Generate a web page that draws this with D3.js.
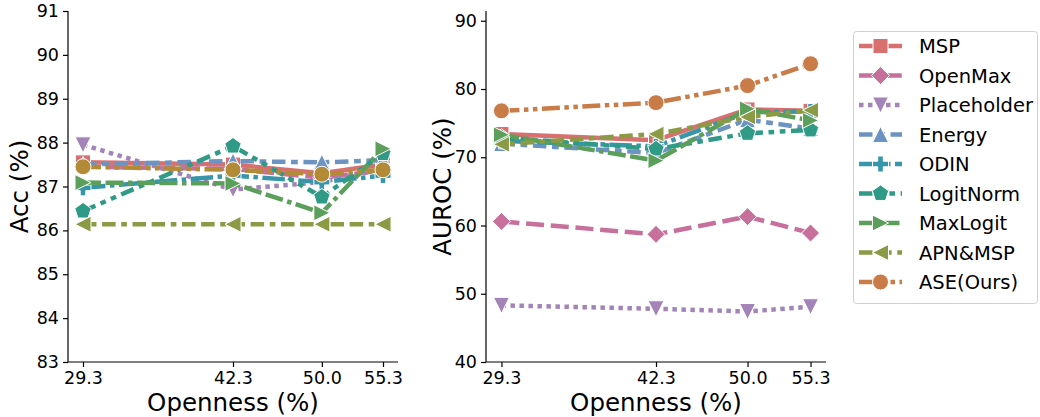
<!DOCTYPE html>
<html><head><meta charset="utf-8">
<script src="https://cdn.jsdelivr.net/npm/d3@7"></script>
<style>body{margin:0;background:#fff}svg text{font-family:"DejaVu Sans",sans-serif;fill:#000}</style>
</head><body>
<svg id="c" width="1040" height="417"></svg>
<script>
// ---------- data ----------
const openness = [29.3, 42.3, 50.0, 55.3];
const opennessLabels = ["29.3", "42.3", "50.0", "55.3"];
const methods = ["MSP", "OpenMax", "Placeholder", "Energy", "ODIN", "LogitNorm", "MaxLogit", "APN&MSP", "ASE(Ours)"];

const accMSP = [87.55, 87.50, 87.30, 87.50];
const accOpenMax = [87.45, 87.40, 87.20, 87.37];
const accPlaceholder = [87.95, 86.93, 87.10, 87.40];
const accEnergy = [87.50, 87.58, 87.55, 87.60];
const accODIN = [86.97, 87.25, 87.10, 87.25];
const accLogitNorm = [86.44, 87.92, 86.76, 87.75];
const accMaxLogit = [87.09, 87.07, 86.40, 87.86];
const accAPN = [86.14, 86.14, 86.14, 86.14];
const accASE = [87.45, 87.38, 87.28, 87.38];

const aurocMSP = [73.4, 72.5, 77.0, 76.8];
const aurocOpenMax = [60.6, 58.7, 61.3, 58.9];
const aurocPlaceholder = [48.3, 47.8, 47.4, 48.1];
const aurocEnergy = [72.0, 70.6, 75.5, 74.2];
const aurocODIN = [72.4, 71.6, 76.6, 76.7];
const aurocLogitNorm = [72.9, 71.2, 73.5, 74.0];
const aurocMaxLogit = [73.3, 69.5, 77.1, 75.4];
const aurocAPN = [71.9, 73.4, 75.9, 76.9];
const aurocASE = [76.8, 78.0, 80.5, 83.7];

const accTicks = [83, 84, 85, 86, 87, 88, 89, 90, 91];
const aurocTicks = [40, 50, 60, 70, 80, 90];

const accSeries = [accMSP, accOpenMax, accPlaceholder, accEnergy, accODIN, accLogitNorm, accMaxLogit, accAPN, accASE];
const aurocSeries = [aurocMSP, aurocOpenMax, aurocPlaceholder, aurocEnergy, aurocODIN, aurocLogitNorm, aurocMaxLogit, aurocAPN, aurocASE];

// ---------- styles ----------
const colors = ["#d8706f", "#c6709b", "#a484b8", "#6c93c1", "#3796aa", "#2f9a86", "#5b9f5a", "#8a9a45", "#c97b48"];
const leftColors = ["#d8706f", "#c6709b", "#a484b8", "#6c93c1", "#3796aa", "#2f9a86", "#5b9f5a", "#8a9a45", "#b38b36"];
const dashes = [null, [4, 1.5], [1, 1], [3, 1.25, 1.5, 1.25], [5, 1, 1, 1], [3, 1.25, 1.25, 1.25, 1.25, 1.25], [4, 1, 4, 1, 1, 1], [3, 1.25, 3, 1.25, 1.25, 1.25], [4, 1, 1, 1, 1, 1]];
const markers = ["s", "D", "v", "^", "P", "p", "<>", "<", "o"];
const LW = 4.5;

function markerPath(m) {
  const r = 8;
  switch (m) {
    case "s": return `M${-7.5},${-7.5}H7.5V7.5H-7.5Z`;
    case "D": return `M0,-9L9,0L0,9L-9,0Z`;
    case "v": return `M-8,-8L8,-8L0,8Z`;
    case "^": return `M-8,8L8,8L0,-8Z`;
    case "P": { const a = 8, b = 2.8; return `M${-b},${-a}H${b}V${-b}H${a}V${b}H${b}V${a}H${-b}V${b}H${-a}V${-b}H${-b}Z`; }
    case "p": { const pts = d3.range(5).map(i => { const t = -Math.PI / 2 + i * 2 * Math.PI / 5; return [8.6 * Math.cos(t), 8.6 * Math.sin(t)]; }); return "M" + pts.map(p => p.join(",")).join("L") + "Z"; }
    case "<>": return `M-8,-8L8,0L-8,8Z`;
    case "<": return `M8,-8L-8,0L8,8Z`;
    case "o": return d3.arc()({innerRadius: 0, outerRadius: r, startAngle: 0, endAngle: 2 * Math.PI});
  }
}

const svg = d3.select("#c");

function panel(x0, x1, yTop, yBot, yDomain, ticks, series, cols, ylabel, ylabelX) {
  const x = d3.scaleLinear().domain([28.0, 56.6]).range([x0, x1]);
  const y = d3.scaleLinear().domain(yDomain).range([yBot, yTop]);
  const g = svg.append("g");

  // series
  series.forEach((vals, i) => {
    const sg = g.append("g");
    const pts = openness.map((o, j) => [x(o), y(vals[j])]);
    const p = sg.append("path").attr("d", d3.line()(pts))
      .attr("fill", "none").attr("stroke", cols[i]).attr("stroke-width", LW)
      .attr("stroke-linejoin", "round");
    if (dashes[i]) p.attr("stroke-dasharray", dashes[i].map(d => d * LW).join(","));
    sg.selectAll("path.m").data(pts).join("path").attr("class", "m")
      .attr("transform", d => `translate(${d[0]},${d[1]})`)
      .attr("d", markerPath(markers[i]))
      .attr("fill", cols[i]).attr("stroke", "#fff").attr("stroke-width", 1);
  });

  // axes
  const xa = g.append("g").attr("transform", `translate(0,${yBot})`)
    .call(d3.axisBottom(x).tickValues(openness).tickFormat((d, i) => opennessLabels[i]).tickSize(5).tickPadding(4).tickSizeOuter(0));
  xa.select(".domain").attr("d", `M${x0},0H${x1}`).attr("stroke-width", 1.2);
  xa.selectAll("text").attr("font-size", 17.5).attr("dy", "0.75em");
  const ya = g.append("g").attr("transform", `translate(${x0},0)`)
    .call(d3.axisLeft(y).tickValues(ticks).tickSize(5).tickPadding(4).tickSizeOuter(0));
  ya.select(".domain").attr("d", `M0,${yTop}V${yBot}`).attr("stroke-width", 1.2);
  ya.selectAll("text").attr("font-size", 17.5);
  g.selectAll(".tick line").attr("stroke-width", 1.2);
  g.selectAll(".domain").raise();

  g.append("text").attr("x", (x0 + x1) / 2).attr("y", 411).attr("text-anchor", "middle")
    .attr("font-size", 24.5).text("Openness (%)");
  g.append("text").attr("transform", `translate(${ylabelX},${(yTop + yBot) / 2}) rotate(-90)`)
    .attr("text-anchor", "middle").attr("font-size", 24.5).text(ylabel);
}

panel(68, 398, 11, 362, [83, 91], accTicks, accSeries, leftColors, "Acc (%)", 28);
panel(486, 826, 11, 362, [40, 40 + 351 / 6.825], aurocTicks, aurocSeries, colors, "AUROC (%)", 451);

// legend
const lg = svg.append("g");
lg.append("rect").attr("x", 853.5).attr("y", 31.5).attr("width", 184).attr("height", 272)
  .attr("rx", 3).attr("fill", "#fff").attr("stroke", "#d0d0d0").attr("stroke-width", 1);
methods.forEach((m, i) => {
  const cy = 46 + i * 29.5;
  const p = lg.append("path").attr("d", `M859,${cy}H902`).attr("stroke", colors[i]).attr("stroke-width", LW).attr("fill", "none");
  if (dashes[i]) p.attr("stroke-dasharray", dashes[i].map(d => d * LW).join(","));
  lg.append("path").attr("transform", `translate(880.5,${cy})`).attr("d", markerPath(markers[i]))
    .attr("fill", colors[i]).attr("stroke", "#fff").attr("stroke-width", 1);
  lg.append("text").attr("x", 919).attr("y", cy).attr("dy", "0.36em").attr("font-size", 19.5).text(m);
});
</script>
</body></html>
